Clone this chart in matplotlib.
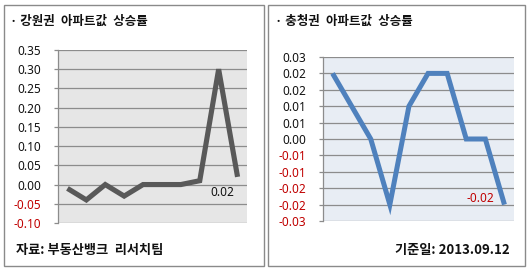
import matplotlib
matplotlib.use("Agg")
import matplotlib.pyplot as plt
from matplotlib.patches import Rectangle

# ---- data ----
categories = list(range(10))
gangwon_values = [-0.01, -0.04, 0.00, -0.03, 0.00, 0.00, 0.00, 0.01, 0.30, 0.02]
chungcheong_values = [0.024, 0.012, 0.000, -0.024, 0.012, 0.024, 0.024, 0.000, 0.000, -0.024]

left_ticks = [-0.10, -0.05, 0.00, 0.05, 0.10, 0.15, 0.20, 0.25, 0.30, 0.35]
left_ticklabels = ["-0.10", "-0.05", "0.00", "0.05", "0.10", "0.15", "0.20", "0.25", "0.30", "0.35"]
right_ticks = [-0.030, -0.024, -0.018, -0.012, -0.006, 0.000, 0.006, 0.012, 0.018, 0.024, 0.030]
right_ticklabels = ["-0.03", "-0.02", "-0.02", "-0.01", "-0.01", "0.00", "0.01", "0.01", "0.02", "0.02", "0.03"]

left_title = "· 강원권\u2002아파트값\u2002상승률"
right_title = "· 충청권\u2002아파트값\u2002상승률"
left_footer = "자료: 부동산뱅크\u2002리서치팀"
right_footer = "기준일: 2013.09.12"
left_label = "0.02"
right_label = "-0.02"

W, H = 530, 270
fig = plt.figure(figsize=(W / 100, H / 100), dpi=100)
fig.patch.set_facecolor("white")

KR = ["Noto Sans CJK KR", "DejaVu Sans"]
NUM = ["Noto Sans", "DejaVu Sans"]
RED = "#C00000"


def px_box(x0, y0, x1, y1):
    return [x0 / W, 1 - y1 / H, (x1 - x0) / W, (y1 - y0) / H]


# panel borders
for (x0, y0, x1, y1) in [(3.5, 4.5, 263.5, 265.5), (267.5, 4.5, 524.5, 265.5)]:
    fig.patches.append(Rectangle((x0 / W, 1 - y1 / H), (x1 - x0) / W, (y1 - y0) / H,
                                 transform=fig.transFigure, fill=False,
                                 edgecolor="#8a8a8a", linewidth=1.0))


def style_axes(ax, ticks, labels, ylim, bg):
    ax.set_facecolor(bg)
    ax.set_xlim(-0.5, 9.5)
    ax.set_ylim(*ylim)
    ax.set_yticks(ticks)
    ax.set_yticklabels(labels, family=NUM, fontsize=8.5)
    for lab, t in zip(ax.get_yticklabels(), ticks):
        lab.set_color(RED if t < -1e-9 else "#111111")
    ax.set_xticks([])
    ax.yaxis.grid(True, color="#8c8c8c", linewidth=0.9)
    ax.set_axisbelow(True)
    for s in ["top", "right", "bottom"]:
        ax.spines[s].set_visible(False)
    ax.spines["left"].set_color("#8c8c8c")
    ax.spines["left"].set_linewidth(0.9)
    ax.tick_params(axis="y", length=3, width=0.9, color="#8c8c8c", pad=9)


ax1 = fig.add_axes(px_box(58, 50, 247, 223))
style_axes(ax1, left_ticks, left_ticklabels, (-0.10, 0.35), "#e6e6e6")
ax1.plot(categories, gangwon_values, color="#595959", linewidth=3.7,
         solid_joinstyle="miter", solid_capstyle="butt")
ax1.annotate(left_label, (categories[-1], gangwon_values[-1]), xytext=(-11, -11),
             textcoords="offset points", ha="center", va="center",
             family=NUM, fontsize=8.5, color="#111111")

ax2 = fig.add_axes(px_box(323, 57, 514, 221))
style_axes(ax2, right_ticks, right_ticklabels, (-0.03, 0.03), "#e8edf4")
ax2.plot(categories, chungcheong_values, color="#4f81bd", linewidth=3.6,
         solid_joinstyle="miter", solid_capstyle="butt")
ax2.annotate(right_label, (categories[-1], chungcheong_values[-1]), xytext=(-17, 4.5),
             textcoords="offset points", ha="center", va="center",
             family=NUM, fontsize=8.5, color=RED)

# titles and footers
fig.text(10 / W, 1 - 21 / H, left_title, family=KR, fontsize=9, fontweight="bold",
         ha="left", va="center", color="#111111")
fig.text(275 / W, 1 - 21 / H, right_title, family=KR, fontsize=9, fontweight="bold",
         ha="left", va="center", color="#111111")
fig.text(16 / W, 1 - 250 / H, left_footer, family=KR, fontsize=9.5, fontweight="bold",
         ha="left", va="center", color="#111111")
fig.text(510 / W, 1 - 250 / H, right_footer, family=KR, fontsize=9.5, fontweight="bold",
         ha="right", va="center", color="#111111")

fig.savefig("out.png", dpi=100, facecolor="white")
